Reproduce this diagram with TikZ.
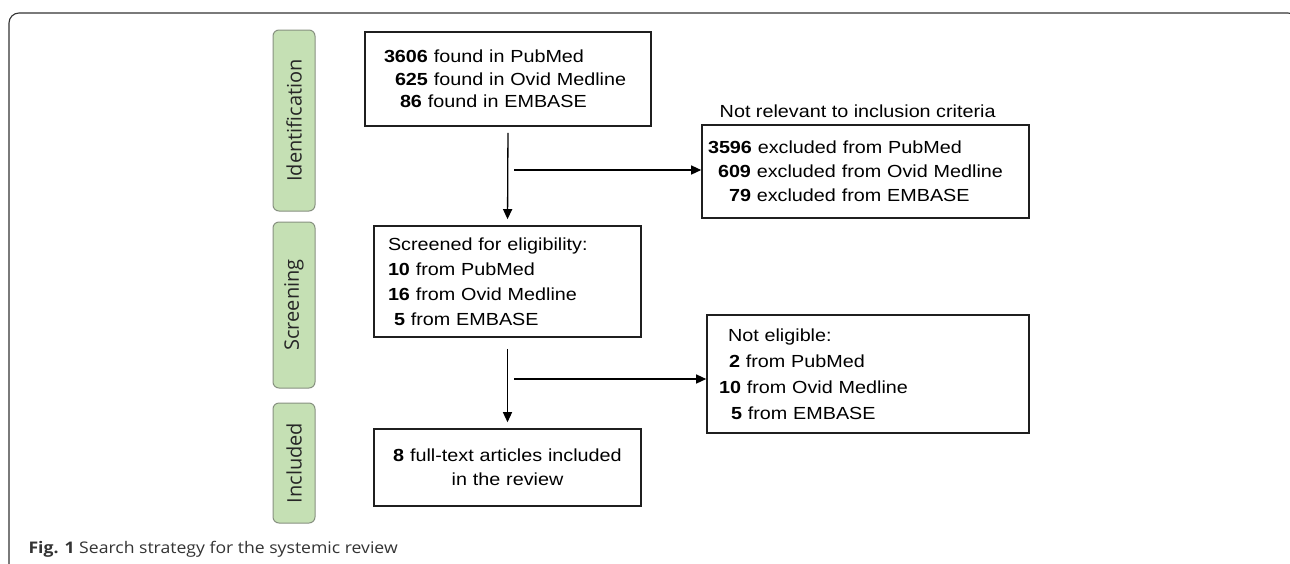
\documentclass[tikz,border=0pt]{standalone}
\usepackage{fontspec}
\setmainfont{Liberation Sans}
\newfontfamily\boxfont[FakeStretch=1.13]{Liberation Sans}
\newfontfamily\phasefont{Open Sans}
\newfontfamily\capfont[FakeStretch=1.1]{Open Sans}
\usepackage{tikz}
\usetikzlibrary{arrows.meta,positioning}
\definecolor{phasefill}{RGB}{197,224,180}
\definecolor{phaseline}{RGB}{135,145,128}

\begin{document}
\begin{tikzpicture}[x=1pt,y=-1pt,
		stepbox/.style={draw=black!88,line width=1.6pt,inner sep=0pt,align=left,font=\boxfont\fontsize{17.5}{23}\selectfont},
		phase/.style={draw=phaseline,fill=phasefill,line width=1pt,rounded corners=6pt,minimum height=42pt,inner sep=0pt,rotate=90,text=black!85,font=\phasefont\fontsize{20}{24}\selectfont},
		link/.style={line width=1.3pt,-{Triangle[length=10pt,width=9pt]}}]
				\useasboundingbox (0,0) rectangle (1290,563);
				\clip (0,0) rectangle (1290,563);
				% 外框
				\draw[line width=1.1pt,draw=black!80,rounded corners=10pt] (9,600) -- (9,13) -- (1298,13) -- (1298,600);
				% 阶段标签
				\node[phase,minimum width=181pt] (ident) at (294,120.5) {Identification};
				\node[phase,minimum width=166pt] (screen) at (294,305) {Screening};
				\node[phase,minimum width=120pt] (incl) at (294,463) {Included};
				% 左列方框
				\node[stepbox,minimum width=286pt,minimum height=94pt,text width=248pt,font=\boxfont\fontsize{17.5}{22.5}\selectfont] (found) at (508,79)
					{\textbf{3606} found in PubMed\\
					\hspace*{11pt}\textbf{625} found in Ovid Medline\\
					\hspace*{16pt}\textbf{86} found in EMBASE};
				\node[stepbox,minimum width=267pt,minimum height=111pt,text width=239pt,font=\boxfont\fontsize{17.5}{25}\selectfont] (screened) at (507.5,281.5)
					{Screened for eligibility:\\
					\textbf{10} from PubMed\\
					\textbf{16} from Ovid Medline\\
					\hspace*{6pt}\textbf{5} from EMBASE};
				\node[stepbox,align=center,minimum width=267pt,minimum height=77pt,text width=260pt,font=\boxfont\fontsize{17.5}{24}\selectfont] (review) at (507.5,467.5)
					{\textbf{8} full-text articles included\\in the review};
				% 右列方框
				\node[stepbox,minimum width=327pt,minimum height=93pt,text width=315pt,font=\boxfont\fontsize{17.5}{24}\selectfont] (excl) at (865.5,171.5)
					{\textbf{3596} excluded from PubMed\\
					\hspace*{10pt}\textbf{609} excluded from Ovid Medline\\
					\hspace*{21pt}\textbf{79} excluded from EMBASE};
				\node[anchor=base west,font=\boxfont\fontsize{17.5}{23}\selectfont] (notrel) at ([xshift=15pt,yshift=7pt]excl.north west) {Not relevant to inclusion criteria};
				\node[stepbox,minimum width=322pt,minimum height=118pt,text width=298pt,font=\boxfont\fontsize{17.5}{26}\selectfont] (noteli) at (868,374)
					{\hspace*{9pt}Not eligible:\\
					\hspace*{10pt}\textbf{2} from PubMed\\
					\textbf{10} from Ovid Medline\\
					\hspace*{12pt}\textbf{5} from EMBASE};
				% 箭头
				\draw[link,shorten <=6pt,shorten >=6pt] (found.south) -- (screened.north);
				\coordinate (split1) at (514,170);
				\draw[link] (split1) -- (split1 -| excl.west);
				\draw[link,shorten <=11pt,shorten >=6pt] (screened.south) -- (review.north);
				\coordinate (split2) at (514,379);
				\draw[link] (split2) -- (split2 -| noteli.west);
				% 图题
				\node[anchor=base west,text=black!80,font=\capfont\fontsize{16}{19}\selectfont] (caption) at (25,553) {\textbf{Fig. 1} Search strategy for the systemic review};
			\end{tikzpicture}
\end{document}
